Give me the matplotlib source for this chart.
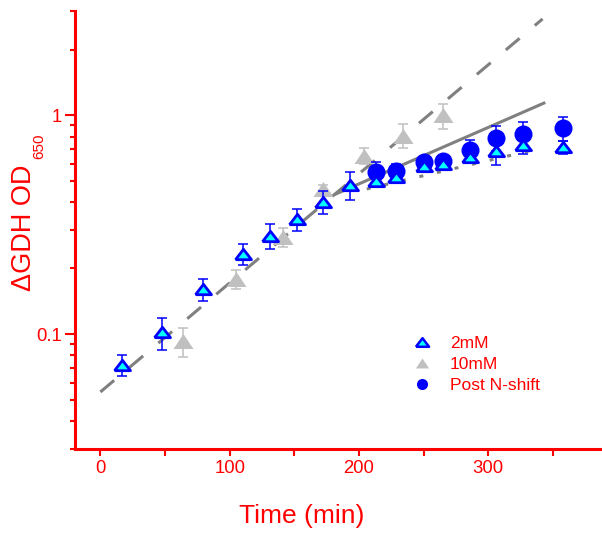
"""
croissance GDH : 2mM, 10mM et post N-shift
"""

import matplotlib
matplotlib.use('Agg')
import matplotlib.pyplot as plt
from matplotlib.ticker import FixedLocator, MultipleLocator, NullFormatter
from matplotlib.lines import Line2D

# donnees
t_2mm = [17, 48, 79, 110, 131, 152, 172, 193, 213, 229, 250, 265, 286, 306, 327, 358]
od_2mm = [0.0726, 0.102, 0.160, 0.233, 0.282, 0.336, 0.403, 0.481,
          0.503, 0.521, 0.585, 0.600, 0.644, 0.691, 0.734, 0.716]
err_2mm = [0.008, 0.017, 0.018, 0.025, 0.038, 0.039, 0.049, 0.07,
           0.03, 0.02, 0.02, 0.02, 0.015, 0.10, 0.07, 0.05]

t_10mm = [64, 105, 141, 172, 204, 234, 265]
od_10mm = [0.0929, 0.178, 0.277, 0.461, 0.655, 0.809, 1.0]
err_10mm = [0.014, 0.018, 0.028, 0.02, 0.055, 0.10, 0.13]

t_shift = [213, 229, 250, 265, 286, 306, 327, 358]
od_shift = [0.549, 0.559, 0.615, 0.622, 0.698, 0.790, 0.824, 0.874]
err_shift = [0.065, 0.04, 0.02, 0.02, 0.075, 0.10, 0.107, 0.11]

# droites d ajustement (extremites)
fit_exp_t = [0, 342]
fit_exp_od = [0.0544, 2.76]
fit_lent_t = [182, 343]
fit_lent_od = [0.437, 1.138]
fit_2mm_t = [206, 331]
fit_2mm_od = [0.461, 0.686]

legend_labels = ['2mM', '10mM', 'Post N-shift']

RED = '#ff0000'
BLUE = '#0000ff'
CYAN = '#00ffff'
GREY = '#c0c0c0'
LINE = '#808080'

plt.rcParams['font.family'] = ['Liberation Sans', 'DejaVu Sans']

# triangles aplatis
tri_bleu = [(-1, -0.65), (1, -0.65), (0, 0.65), (-1, -0.65)]
tri_gris = [(-1, -0.75), (1, -0.75), (0, 0.75), (-1, -0.75)]

if __name__ == '__main__':
    fig = plt.figure(figsize=(6.02, 5.33), dpi=100)
    ax = fig.add_axes([0.1238, 0.1585, 0.8763, 0.8208])

    # droites
    ax.plot(fit_exp_t, fit_exp_od, color=LINE, lw=2.2, ls=(0, (5.9, 6.5)), zorder=1)
    ax.plot(fit_lent_t, fit_lent_od, color=LINE, lw=2.2, zorder=1)
    ax.plot(fit_2mm_t, fit_2mm_od, color=LINE, lw=2.2, ls=(0, (1.3, 4.6)), zorder=1)

    # 10mM
    ax.errorbar(t_10mm, od_10mm, yerr=err_10mm, fmt='none', ecolor=GREY,
                elinewidth=1.1, capsize=3.6, capthick=1.1, zorder=2)
    ax.plot(t_10mm, od_10mm, ls='none', marker=tri_gris, ms=14.4,
            color=GREY, mec='none', zorder=3)

    # post N-shift
    ax.errorbar(t_shift, od_shift, yerr=err_shift, fmt='none', ecolor=BLUE,
                elinewidth=1.1, capsize=3.6, capthick=1.1, zorder=4)
    ax.plot(t_shift, od_shift, ls='none', marker='o', ms=13,
            color=BLUE, mec='none', zorder=5)

    # 2mM
    ax.errorbar(t_2mm, od_2mm, yerr=err_2mm, fmt='none', ecolor=BLUE,
                elinewidth=1.1, capsize=3.6, capthick=1.1, zorder=6)
    ax.plot(t_2mm, od_2mm, ls='none', marker=tri_bleu, ms=11.5,
            mfc=CYAN, mec=BLUE, mew=2, zorder=7)

    ax.set_yscale('log')
    ax.set_xlim(-20, 388)
    ax.set_ylim(0.03, 3)

    # axes rouges
    for s in ['top', 'right']:
        ax.spines[s].set_visible(False)
    for s in ['left', 'bottom']:
        ax.spines[s].set_color(RED)
        ax.spines[s].set_linewidth(2.2)

    ax.yaxis.set_major_locator(FixedLocator([0.1, 1]))
    ax.set_yticklabels(['0.1', '1'])
    ax.yaxis.set_minor_locator(FixedLocator(
        [0.03, 0.04, 0.05, 0.06, 0.07, 0.08, 0.09,
         0.2, 0.3, 0.4, 0.5, 0.6, 0.7, 0.8, 0.9, 2, 3]))
    ax.yaxis.set_minor_formatter(NullFormatter())
    ax.xaxis.set_major_locator(MultipleLocator(100))
    ax.xaxis.set_minor_locator(MultipleLocator(50))

    ax.tick_params(axis='y', which='major', direction='out', length=7.2, width=1.5,
                   color=RED, labelcolor=RED, labelsize=13.3, pad=2)
    ax.tick_params(axis='y', which='minor', direction='out', length=3.6, width=1.5,
                   color=RED)
    ax.tick_params(axis='x', which='both', direction='out', length=5, width=1.5,
                   color=RED, labelcolor=RED, labelsize=13.3, pad=3)

    fig.text(302 / 602, 1 - 516 / 533, 'Time (min)', color=RED, fontsize=19,
             ha='center', va='center')
    # titre y : texte + indice plus petit
    fig.text(31 / 602, 1 - 291 / 533, 'ΔGDH OD', color=RED, fontsize=19.5,
             rotation=90, rotation_mode='anchor', ha='left', va='baseline')
    fig.text(43 / 602, 1 - 159 / 533, '650', color=RED, fontsize=11,
             rotation=90, rotation_mode='anchor', ha='left', va='baseline')

    # legende
    poignees = [
        Line2D([], [], ls='none', marker=tri_bleu, ms=9.5, mfc=CYAN, mec=BLUE, mew=1.8),
        Line2D([], [], ls='none', marker=tri_gris, ms=9.5, color=GREY, mec='none'),
        Line2D([], [], ls='none', marker='o', ms=8, color=BLUE, mec='none'),
    ]
    leg = fig.legend(poignees, legend_labels, loc='upper left',
                     bbox_to_anchor=(413 / 602, 1 - 335.5 / 533), frameon=False,
                     fontsize=12.5, handlelength=1.0, handletextpad=1.13,
                     labelspacing=0.35, borderpad=0, borderaxespad=0)
    for txt in leg.get_texts():
        txt.set_color(RED)

    fig.savefig('out.png', dpi=100)
